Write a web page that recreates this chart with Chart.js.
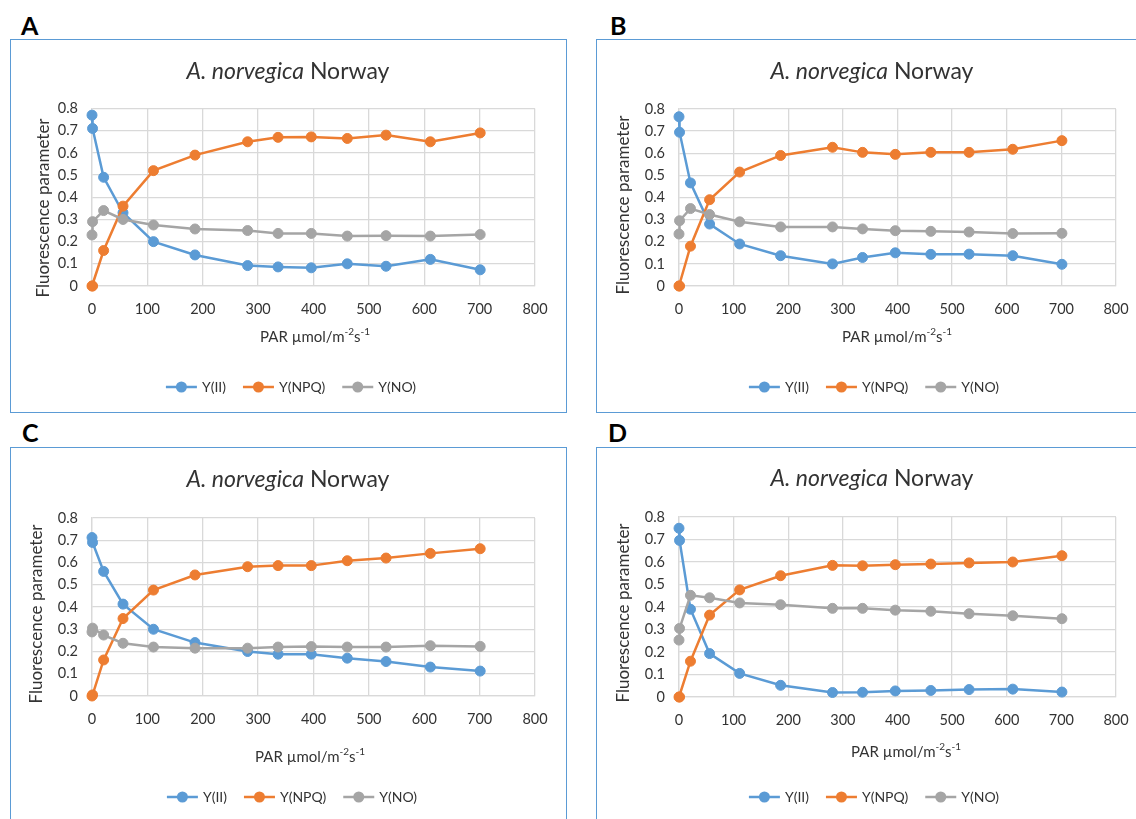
<!DOCTYPE html>
<html>
<head>
<meta charset="utf-8">
<script src="https://cdn.jsdelivr.net/npm/chart.js@4.4.1/dist/chart.umd.min.js"></script>
<style>
  body { margin: 0; width: 1136px; height: 819px; overflow: hidden; background: #fff; position: relative; font-family: Lato, sans-serif; }
  .tag { position: absolute; font: bold 25px/25px Lato, sans-serif; color: #000; }
  .frame { position: absolute; border: 1.5px solid #5B9BD5; box-sizing: border-box; pointer-events: none; }
  canvas { position: absolute; }
</style>
</head>
<body>
<div class="tag" style="left:21px;top:13px">A</div>
<div class="tag" style="left:610px;top:13px">B</div>
<div class="tag" style="left:22px;top:420px">C</div>
<div class="tag" style="left:608px;top:420px">D</div>

<script>
/* =============================================
   A. norvegica Norway – light curves (4 panels)
   ============================================= */

// ----- Data -----
const PAR = [0, 1, 21, 56, 111, 186, 281, 336, 396, 461, 531, 611, 701];
const X_TICKS = [0, 100, 200, 300, 400, 500, 600, 700, 800];
const Y_TICKS = [0, 0.1, 0.2, 0.3, 0.4, 0.5, 0.6, 0.7, 0.8];
const SERIES = ['Y(II)', 'Y(NPQ)', 'Y(NO)'];

const yII_A  = [0.77, 0.71, 0.49, 0.33, 0.20, 0.14, 0.092, 0.086, 0.082, 0.10, 0.089, 0.12, 0.073];
const yNPQ_A = [0, 0, 0.16, 0.36, 0.52, 0.59, 0.65, 0.67, 0.672, 0.665, 0.68, 0.65, 0.69];
const yNO_A  = [0.23, 0.29, 0.34, 0.30, 0.275, 0.257, 0.25, 0.237, 0.237, 0.225, 0.227, 0.225, 0.232];

const yII_B  = [0.765, 0.695, 0.466, 0.28, 0.19, 0.137, 0.10, 0.129, 0.15, 0.143, 0.144, 0.137, 0.098];
const yNPQ_B = [0, 0, 0.18, 0.39, 0.515, 0.59, 0.627, 0.604, 0.595, 0.604, 0.604, 0.618, 0.657];
const yNO_B  = [0.235, 0.295, 0.35, 0.323, 0.29, 0.267, 0.267, 0.258, 0.25, 0.247, 0.244, 0.237, 0.238];

const yII_C  = [0.712, 0.69, 0.56, 0.413, 0.30, 0.24, 0.20, 0.188, 0.188, 0.17, 0.155, 0.13, 0.112];
const yNPQ_C = [0, 0.005, 0.162, 0.348, 0.476, 0.544, 0.581, 0.586, 0.586, 0.608, 0.62, 0.641, 0.662];
const yNO_C  = [0.288, 0.305, 0.274, 0.237, 0.22, 0.215, 0.215, 0.22, 0.222, 0.22, 0.22, 0.226, 0.223];

const yII_D  = [0.75, 0.696, 0.39, 0.193, 0.105, 0.052, 0.02, 0.021, 0.027, 0.029, 0.033, 0.035, 0.022];
const yNPQ_D = [0, 0, 0.159, 0.364, 0.476, 0.539, 0.585, 0.583, 0.588, 0.591, 0.596, 0.60, 0.628];
const yNO_D  = [0.253, 0.305, 0.452, 0.441, 0.418, 0.41, 0.394, 0.394, 0.386, 0.381, 0.37, 0.361, 0.348];

// ----- Look -----
const COLORS = ['#5B9BD5', '#ED7D31', '#A5A5A5'];
const GRID   = '#D9D9D9';
const INK    = '#333333';
const FONT   = 'Lato, sans-serif';

// page coords: box [left, top, w, h], plot [left, right, top, bottom], text centres
const PANELS = [
  { box: [10, 39, 557, 374],  plot: [92, 535, 108.5, 286], title: [288, 71.5], yTitle: [44, 208],  xTitle: [315, 337], legend: [291, 387], data: [yII_A, yNPQ_A, yNO_A] },
  { box: [596, 39, 560, 374], plot: [679, 1116, 109, 286], title: [872, 71.5], yTitle: [624, 205], xTitle: [897, 337], legend: [874, 387], data: [yII_B, yNPQ_B, yNO_B] },
  { box: [10, 447, 557, 380], plot: [92, 535, 518, 696],   title: [288, 480],  yTitle: [37, 614],  xTitle: [310, 757], legend: [292, 797], data: [yII_C, yNPQ_C, yNO_C] },
  { box: [596, 447, 560, 380], plot: [679, 1116, 517, 697], title: [872, 479], yTitle: [624, 613], xTitle: [906, 752], legend: [874, 797], data: [yII_D, yNPQ_D, yNO_D] },
];

// ----- Text plugin (title, axis titles, legend) -----
const panelText = {
  id: 'panelText',
  afterDraw(chart, args, opts) {
    const ctx = chart.ctx;
    const p = opts.panel;
    const ox = p.box[0], oy = p.box[1];
    ctx.save();
    ctx.fillStyle = INK;
    ctx.textBaseline = 'middle';
    ctx.textAlign = 'left';

    // chart title: italic genus/species + plain place name
    const it = 'A. norvegica', rest = ' Norway';
    ctx.font = `italic 23px ${FONT}`;
    const w1 = ctx.measureText(it).width;
    ctx.font = `23px ${FONT}`;
    const w2 = ctx.measureText(rest).width;
    let tx = p.title[0] - ox - (w1 + w2) / 2;
    const ty = p.title[1] - oy;
    ctx.font = `italic 23px ${FONT}`;
    ctx.fillText(it, tx, ty);
    ctx.font = `23px ${FONT}`;
    ctx.fillText(rest, tx + w1, ty);

    // x-axis title with superscripts
    const parts = [['PAR µmol/m', 0], ['-2', 1], ['s', 0], ['-1', 1]];
    const big = `15px ${FONT}`, small = `10px ${FONT}`;
    let total = 0;
    parts.forEach(([s, sup]) => { ctx.font = sup ? small : big; total += ctx.measureText(s).width; });
    let xx = p.xTitle[0] - ox - total / 2;
    const xy = p.xTitle[1] - oy;
    parts.forEach(([s, sup]) => {
      ctx.font = sup ? small : big;
      ctx.fillText(s, xx, sup ? xy - 5 : xy);
      xx += ctx.measureText(s).width;
    });

    // y-axis title, rotated
    ctx.save();
    ctx.translate(p.yTitle[0] - ox, p.yTitle[1] - oy);
    ctx.rotate(-Math.PI / 2);
    ctx.textAlign = 'center';
    ctx.font = `17px ${FONT}`;
    ctx.fillText('Fluorescence parameter', 0, 0);
    ctx.restore();

    // legend: line + marker + label
    ctx.font = `14px ${FONT}`;
    const seg = 31, gapTxt = 5, gapItem = 17;
    const widths = SERIES.map(s => seg + gapTxt + ctx.measureText(s).width);
    const full = widths.reduce((a, b) => a + b, 0) + gapItem * (SERIES.length - 1);
    let lx = p.legend[0] - ox - full / 2;
    const ly = p.legend[1] - oy;
    SERIES.forEach((s, i) => {
      ctx.strokeStyle = COLORS[i];
      ctx.fillStyle = COLORS[i];
      ctx.lineWidth = 2.5;
      ctx.beginPath(); ctx.moveTo(lx, ly); ctx.lineTo(lx + seg, ly); ctx.stroke();
      ctx.beginPath(); ctx.arc(lx + seg / 2, ly, 5.5, 0, Math.PI * 2); ctx.fill();
      ctx.fillStyle = INK;
      ctx.fillText(s, lx + seg + gapTxt, ly);
      lx += widths[i] + gapItem;
    });
    ctx.restore();
  },
};

// ----- Build charts -----
function makePanel(p) {
  const [bx, by, bw, bh] = p.box;
  const [pl, pr, pt, pb] = p.plot;

  const cv = document.createElement('canvas');
  cv.width = bw; cv.height = bh;
  cv.style.left = bx + 'px'; cv.style.top = by + 'px';
  document.body.appendChild(cv);

  const fr = document.createElement('div');
  fr.className = 'frame';
  Object.assign(fr.style, { left: bx + 'px', top: by + 'px', width: bw + 'px', height: bh + 'px' });
  document.body.appendChild(fr);

  const datasets = SERIES.map((name, i) => ({
    label: name,
    data: PAR.map((x, k) => ({ x, y: p.data[i][k] })),
    borderColor: COLORS[i],
    backgroundColor: COLORS[i],
    pointBackgroundColor: COLORS[i],
    pointBorderColor: COLORS[i],
    pointRadius: 5,
    pointBorderWidth: 1,
    borderWidth: 2.5,
    tension: 0,
    clip: false,
    order: SERIES.length - i,   // later series on top, like the original
  }));

  new Chart(cv.getContext('2d'), {
    type: 'line',
    data: { datasets },
    options: {
      responsive: false,
      animation: false,
      events: [],
      layout: { padding: { left: 0, top: pt - by, right: bx + bw - pr, bottom: 0 } },
      plugins: { legend: { display: false }, tooltip: { enabled: false }, panelText: { panel: p } },
      scales: {
        x: {
          type: 'linear', min: 0, max: 800,
          afterBuildTicks: s => { s.ticks = X_TICKS.map(v => ({ value: v })); },
          afterFit: s => { s.height = by + bh - pb; },
          grid: { color: GRID, lineWidth: 1.3, drawTicks: false },
          border: { color: GRID, width: 1.3 },
          ticks: { padding: 15, color: INK, font: { family: FONT, size: 14.5 }, maxRotation: 0 },
        },
        y: {
          min: 0, max: 0.8,
          afterBuildTicks: s => { s.ticks = Y_TICKS.map(v => ({ value: v })); },
          afterFit: s => { s.width = pl - bx; },
          grid: { color: GRID, lineWidth: 1.3, drawTicks: false },
          border: { color: GRID, width: 1.3 },
          ticks: { padding: 14, color: INK, font: { family: FONT, size: 14.5 }, callback: v => v === 0 ? '0' : v.toFixed(1) },
        },
      },
    },
    plugins: [panelText],
  });
}

PANELS.forEach(makePanel);
</script>
</body>
</html>
